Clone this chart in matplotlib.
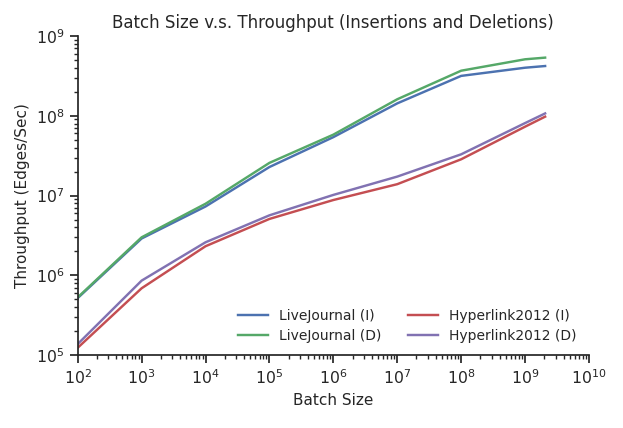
import matplotlib
matplotlib.use("Agg")
import matplotlib.pyplot as plt
import numpy as np

# batch sizes and throughput (edges/sec)
batch = [1e2, 1e3, 1e4, 1e5, 1e6, 1e7, 1e8, 1e9, 2.06e9]
lj_ins = [5.2e5, 2.9e6, 7.3e6, 2.28e7, 5.4e7, 1.43e8, 3.16e8, 4.0e8, 4.2e8]
lj_del = [5.3e5, 3.0e6, 7.9e6, 2.57e7, 5.8e7, 1.61e8, 3.67e8, 5.1e8, 5.35e8]
hl_ins = [1.24e5, 6.9e5, 2.32e6, 5.1e6, 8.8e6, 1.39e7, 2.85e7, 7.3e7, 9.75e7]
hl_del = [1.38e5, 8.6e5, 2.6e6, 5.66e6, 1.02e7, 1.73e7, 3.29e7, 8.1e7, 1.07e8]

labels = ["LiveJournal (I)", "LiveJournal (D)", "Hyperlink2012 (I)", "Hyperlink2012 (D)"]
colors = ["#4C72B0", "#55A868", "#C44E52", "#8172B2"]

dark = "#262626"
plt.rcParams.update({
    "font.family": "DejaVu Sans",
    "text.color": dark,
    "axes.labelcolor": dark,
    "axes.edgecolor": dark,
    "xtick.color": dark,
    "ytick.color": dark,
    "axes.linewidth": 1.25,
})

fig = plt.figure(figsize=(6.23, 4.28), dpi=100)
ax = fig.add_axes([0.1247, 0.170, 0.8207, 0.746])

for ys, lab, c in zip([lj_ins, lj_del, hl_ins, hl_del], labels, colors):
    ax.plot(batch, ys, color=c, label=lab, linewidth=1.75)

ax.set_xscale("log")
ax.set_yscale("log")
ax.set_xlim(1e2, 1e10)
ax.set_ylim(1e5, 1e9)
ax.spines["top"].set_visible(False)
ax.spines["right"].set_visible(False)
ax.tick_params(which="major", direction="out", length=6, width=1.25, labelsize=11.3)
ax.tick_params(which="minor", direction="out", length=3, width=1)

ax.set_title("Batch Size v.s. Throughput (Insertions and Deletions)", fontsize=12)
ax.set_xlabel("Batch Size", fontsize=11)
ax.set_ylabel("Throughput (Edges/Sec)", fontsize=11)

ax.legend(ncol=2, loc="lower right", frameon=False, fontsize=10,
          bbox_to_anchor=(1.0, 0.0), columnspacing=1.9, handlelength=2.16,
          handletextpad=0.8, labelspacing=0.4)

fig.savefig("out.png", dpi=100)
